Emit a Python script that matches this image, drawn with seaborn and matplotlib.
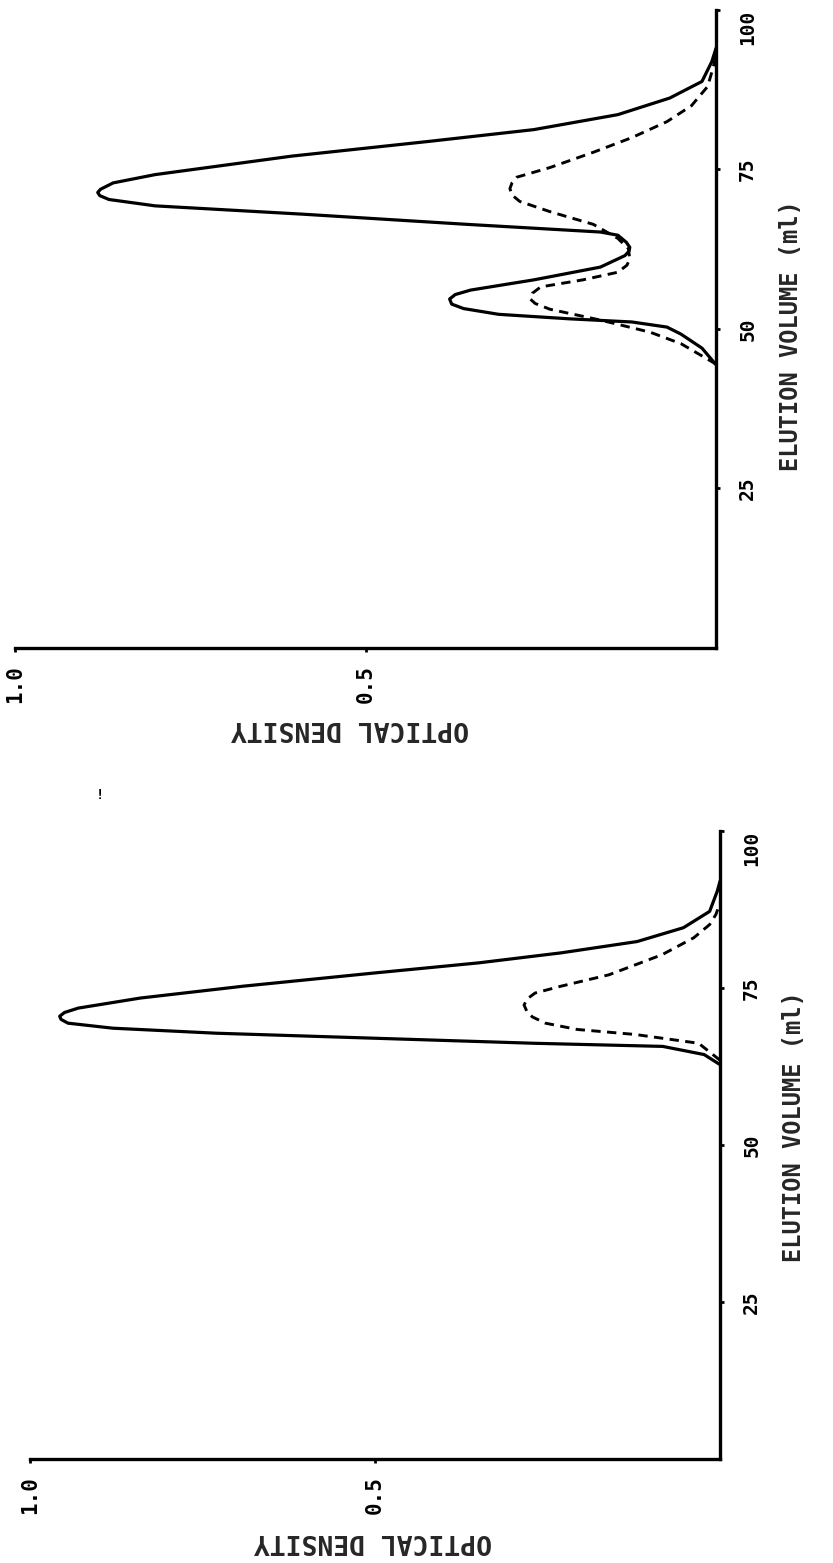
import matplotlib
matplotlib.use("Agg")
import matplotlib.pyplot as plt
import seaborn as sns
import pandas as pd

# ---------------- data ----------------
# Upper panel (two-peak profile)
top_solid_volume = [44.4, 47.0, 49.2, 50.3, 51.1, 51.6, 52.3, 53.2, 53.9, 54.7, 55.4, 56.1,
                    57.7, 59.7, 61.5, 62.2, 62.8, 63.6, 64.7, 65.2, 66.4, 68.0, 69.3, 70.3,
                    70.9, 71.4, 71.9, 72.9, 74.2, 77.1, 79.4, 81.25, 83.6, 86.2, 88.8, 91.9,
                    94.0]
top_solid_od = [0.0, 0.02, 0.05, 0.07, 0.12, 0.21, 0.31, 0.36, 0.377, 0.38, 0.372, 0.35,
                0.26, 0.165, 0.13, 0.124, 0.123, 0.128, 0.14, 0.165, 0.355, 0.59, 0.80, 0.866,
                0.879, 0.882, 0.878, 0.86, 0.80, 0.605, 0.41, 0.26, 0.14, 0.066, 0.02, 0.006,
                0.0]
top_dash_volume = [44.5, 47.7, 49.5, 51.4, 53.1, 54.0, 54.7, 55.6, 56.6, 57.7, 58.9, 60.0,
                   61.0, 62.6, 64.2, 66.4, 68.4, 70.0, 71.0, 72.0, 72.9, 73.8, 75.3, 77.7,
                   80.0, 82.5, 85.0, 88.0, 91.0, 93.0]
top_dash_od = [0.0, 0.05, 0.094, 0.165, 0.237, 0.258, 0.265, 0.262, 0.25, 0.19, 0.14, 0.127,
               0.123, 0.125, 0.14, 0.175, 0.237, 0.28, 0.291, 0.294, 0.291, 0.284, 0.237, 0.175,
               0.12, 0.07, 0.035, 0.012, 0.004, 0.0]

# Lower panel (single main peak)
bot_solid_volume = [62.8, 64.4, 65.7, 66.2, 67.0, 67.8, 68.6, 69.4, 70.0, 70.5, 71.1, 71.8,
                    73.4, 75.3, 77.4, 79.0, 80.6, 82.4, 84.6, 87.2, 90.4, 92.0]
bot_solid_od = [0.0, 0.023, 0.083, 0.27, 0.50, 0.73, 0.88, 0.945, 0.955, 0.957, 0.95, 0.93,
                0.84, 0.69, 0.50, 0.35, 0.23, 0.12, 0.053, 0.015, 0.004, 0.0]
bot_dash_volume = [63.5, 66.2, 67.6, 68.4, 69.4, 70.4, 71.3, 72.3, 73.3, 74.2, 75.3, 77.1,
                   80.3, 83.0, 85.1, 86.7, 88.5]
bot_dash_od = [0.0, 0.031, 0.123, 0.207, 0.253, 0.272, 0.28, 0.284, 0.279, 0.268, 0.23,
               0.161, 0.084, 0.038, 0.015, 0.006, 0.0]

volume_ticks = [25, 50, 75, 100]
volume_ticklabels = ["25", "50", "75", "100"]
od_ticks = [1.0, 0.5]
od_ticklabels = ["1.0", "0.5"]
xlabel_text = "OPTICAL DENSITY"
ylabel_text = "ELUTION VOLUME (ml)"

# ---------------- style ----------------
sns.set_theme(style="white")
plt.rcParams["font.family"] = ["DejaVu Sans Mono", "DejaVu Sans"]
plt.rcParams["font.weight"] = "bold"

W, H = 833, 1563
fig = plt.figure(figsize=(W / 100, H / 100), dpi=100)
fig.patch.set_facecolor("white")

ax_top = fig.add_axes([15 / W, 1 - 648 / H, 701 / W, 638 / H])
ax_bot = fig.add_axes([30 / W, 1 - 1459 / H, 690 / W, 628 / H])


def draw(ax, sv, so, dv, do, xlab_pos, ylab_pos):
    df_s = pd.DataFrame({"od": so, "vol": sv})
    df_d = pd.DataFrame({"od": do, "vol": dv})
    sns.lineplot(data=df_s, x="od", y="vol", orient="y", estimator=None, ax=ax,
                 color="black", linewidth=2.3, solid_capstyle="round",
                 solid_joinstyle="round")
    sns.lineplot(data=df_d, x="od", y="vol", orient="y", estimator=None, ax=ax,
                 color="black", linewidth=2.1, linestyle=(0, (3.2, 2.2)),
                 dash_joinstyle="round")
    ax.set_xlim(1.0, 0.0)
    ax.set_ylim(0, 100)
    ax.set_facecolor("white")
    for s in ["left", "top"]:
        ax.spines[s].set_visible(False)
    for s in ["right", "bottom"]:
        ax.spines[s].set_visible(True)
        ax.spines[s].set_color("black")
        ax.spines[s].set_linewidth(2.4)
    ax.yaxis.tick_right()
    ax.yaxis.set_label_position("right")
    ax.set_yticks(volume_ticks)
    labs = ax.set_yticklabels(volume_ticklabels, rotation=90, va="center", fontsize=14,
                              fontweight="bold")
    labs[-1].set_va("top")
    ax.set_xticks(od_ticks)
    ax.set_xticklabels(od_ticklabels, rotation=90, ha="center", fontsize=15,
                       fontweight="bold")
    ax.tick_params(axis="y", which="both", right=True, left=False, length=3, width=2,
                   pad=13, colors="black")
    ax.tick_params(axis="x", which="both", bottom=True, length=3, width=2, pad=9,
                   colors="black")
    ax.set_xlabel(xlabel_text, rotation=180, fontsize=19, fontweight="bold")
    ax.xaxis.set_label_coords(*xlab_pos)
    ax.set_ylabel(ylabel_text, rotation=90, fontsize=17, fontweight="bold")
    ax.yaxis.set_label_coords(*ylab_pos)
    ax.grid(False)


draw(ax_top, top_solid_volume, top_solid_od, top_dash_volume, top_dash_od,
     (0.478, -0.105), (1.09, 0.49))
draw(ax_bot, bot_solid_volume, bot_solid_od, bot_dash_volume, bot_dash_od,
     (0.497, -0.11), (1.09, 0.53))

# small stray mark present in the scanned original
fig.text(100 / W, 1 - 795 / H, "!", fontsize=10, ha="center", va="center", color="black")

fig.savefig("out.png", dpi=100, facecolor="white")
